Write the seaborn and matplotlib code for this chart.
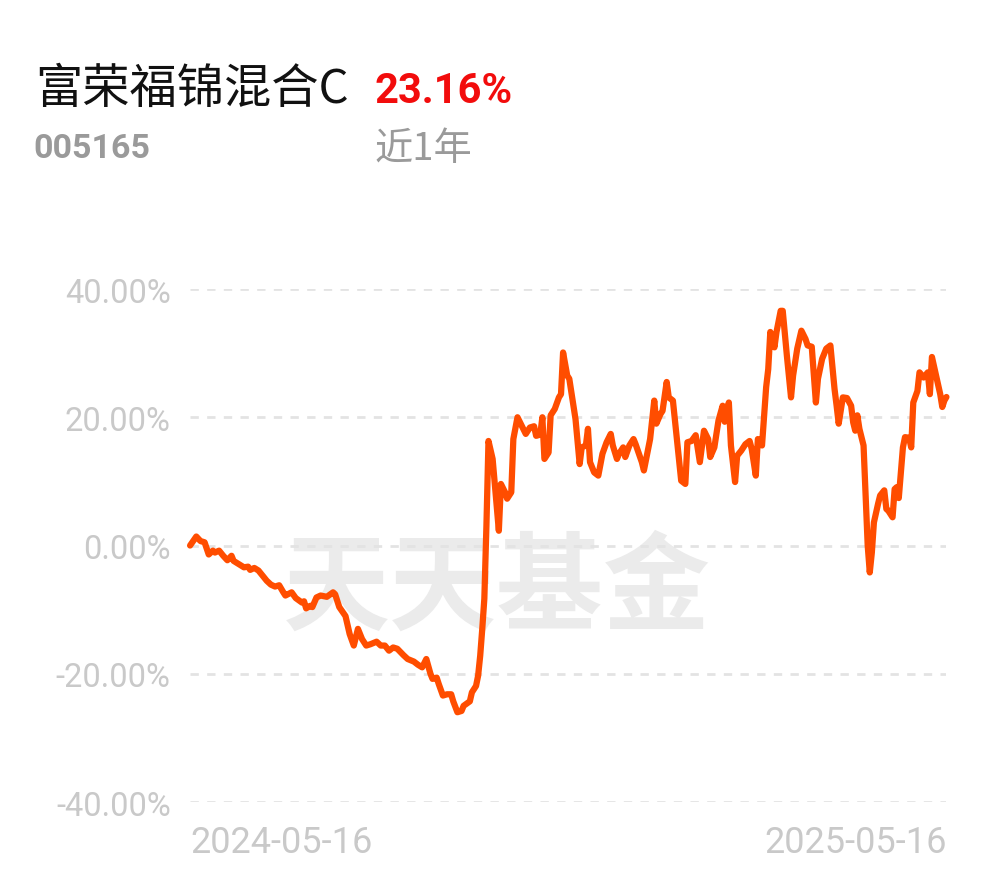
import pandas as pd
import numpy as np
import seaborn as sns
import matplotlib.pyplot as plt

# fund info
fund_name = "富荣福锦混合C"
fund_code = "005165"
period_label = "近1年"
period_return = "23.16%"
start_label = "2024-05-16"
end_label = "2025-05-16"

# cumulative return (%), days counted from 2024-05-16
days = [0, 3, 5, 7, 9, 11, 12, 14, 16, 18, 20, 21, 24, 26, 28, 29, 31, 33, 37, 39,
        41, 43, 45, 46, 49, 51, 54, 55, 56, 58, 59, 61, 63, 66, 69, 70, 72, 75, 77, 79,
        81, 83, 85, 87, 90, 92, 94, 96, 98, 100, 103, 105, 108, 110, 112, 114, 116, 117, 119, 120,
        122, 124, 126, 127, 129, 131, 132, 135, 136, 138, 139, 140, 141, 142, 143, 144, 146, 149, 150, 152,
        153, 155, 156, 158, 160, 162, 164, 166, 167, 169, 170, 171, 173, 174, 176, 178, 179, 180, 182, 183,
        186, 188, 189, 191, 192, 193, 195, 197, 199, 201, 203, 204, 206, 207, 209, 210, 212, 214, 215, 218,
        219, 222, 224, 225, 227, 228, 230, 231, 233, 235, 237, 239, 240, 242, 244, 246, 248, 250, 251, 253,
        255, 257, 258, 260, 261, 263, 264, 266, 268, 270, 271, 273, 274, 276, 278, 279, 280, 282, 283, 285,
        286, 288, 290, 291, 293, 295, 297, 298, 300, 302, 303, 305, 307, 309, 311, 312, 313, 315, 317, 319,
        320, 321, 322, 323, 325, 326, 327, 328, 329, 330, 332, 333, 335, 336, 337, 339, 340, 341, 342, 344,
        345, 347, 348, 349, 351, 352, 354, 356, 357, 358, 360, 362, 363, 364, 365]
values = [0.0, 1.4, 0.7, 0.5, -1.4, -0.8, -1.1, -0.8, -1.6, -2.3, -1.6, -2.4, -3.0, -3.4, -3.3, -3.8, -3.5, -3.9, -5.5, -6.1,
          -6.4, -6.2, -7.3, -7.8, -7.3, -8.2, -8.9, -8.7, -9.8, -9.4, -9.6, -8.1, -7.8, -8.0, -7.3, -7.6, -9.6, -11.0, -13.8, -15.6,
          -13.0, -14.6, -15.6, -15.4, -15.0, -15.6, -15.6, -16.4, -15.9, -16.1, -17.1, -17.7, -18.1, -18.6, -19.0, -17.7, -20.0, -20.8, -20.6, -21.6,
          -23.4, -23.2, -23.2, -24.3, -26.0, -25.8, -25.0, -24.3, -22.9, -21.9, -20.3, -17.2, -13.0, -8.3, 3.0, 16.3, 13.5, 2.3, 9.6, 8.3,
          7.3, 8.3, 16.6, 20.0, 18.7, 17.4, 18.4, 18.6, 17.1, 17.3, 20.0, 13.5, 14.5, 20.3, 21.3, 23.1, 23.6, 30.1, 26.5, 26.0,
          19.7, 12.7, 15.3, 15.6, 18.2, 13.0, 11.4, 10.9, 14.3, 16.1, 17.4, 15.6, 13.5, 14.3, 15.3, 13.8, 15.6, 16.6, 15.8, 13.0,
          11.7, 16.6, 22.6, 19.0, 20.5, 21.0, 25.5, 23.1, 22.6, 16.3, 10.1, 9.6, 16.1, 16.3, 17.2, 13.0, 17.9, 16.6, 13.8, 15.3,
          19.5, 21.8, 19.3, 22.3, 15.6, 9.9, 14.0, 14.8, 15.8, 16.3, 15.1, 10.9, 16.6, 15.6, 24.7, 27.5, 33.3, 30.9, 33.3, 36.6,
          36.6, 29.6, 23.1, 26.5, 30.7, 33.5, 32.2, 31.2, 31.0, 22.3, 26.0, 29.1, 30.7, 31.2, 24.4, 21.8, 19.0, 23.1, 23.0, 21.8,
          19.2, 17.9, 20.3, 18.2, 15.6, 7.8, 0.0, -4.2, -1.1, 3.6, 6.5, 7.8, 8.6, 5.7, 5.4, 4.4, 8.8, 9.1, 7.4, 15.3,
          16.9, 16.8, 15.3, 22.3, 24.1, 27.0, 26.2, 27.0, 23.6, 29.4, 26.5, 23.6, 21.6, 22.6, 23.16]

y_ticks = [-40, -20, 0, 20, 40]

start = pd.Timestamp(start_label)
df = pd.DataFrame({"date": start + pd.to_timedelta(days, unit="D"), "ret": values})

sns.set_style("white")
plt.rcParams["font.family"] = ["Roboto", "Noto Sans CJK SC", "DejaVu Sans"]

fig = plt.figure(figsize=(9.9, 8.78), dpi=100)
ax = fig.add_axes([0.192, 0.0854, 0.764, 0.5843])

# watermark
ax.text(0.406, 0.415, "天天基金", transform=ax.transAxes, ha="center", va="center",
        fontsize=77, fontweight="bold", color="#ebebeb", family=["Noto Sans CJK SC"], zorder=0)

for t in y_ticks:
    ax.axhline(t, color="#e3e3e3", lw=2, ls=(0, (3, 3)), zorder=1)

sns.lineplot(data=df, x="date", y="ret", ax=ax, color="#ff4d00", lw=4.5, zorder=3)
ax.lines[-1].set_clip_on(False)

ax.set_xlim(df["date"].iloc[0], pd.Timestamp(end_label))
ax.set_ylim(-40, 40)
ax.set_yticks(y_ticks)
ax.set_yticklabels([f"{t:.2f}%" for t in y_ticks], fontsize=23.5, color="#c9c9c9")
ax.set_xticks([df["date"].iloc[0], pd.Timestamp(end_label)])
ax.set_xticklabels([start_label, end_label], fontsize=26, color="#c9c9c9")
xl = ax.get_xticklabels()
xl[0].set_ha("left")
xl[1].set_ha("right")
ax.tick_params(axis="y", length=0, pad=14)
ax.tick_params(axis="x", length=0, pad=16)
ax.set_xlabel("")
ax.set_ylabel("")
sns.despine(ax=ax, left=True, bottom=True)

# header
fig.text(35 / 990, 1 - 103 / 878, fund_name, fontsize=34, color="#111111",
         family=["Noto Sans CJK SC"])
fig.text(375 / 990, 1 - 103 / 878, period_return, fontsize=30, fontweight="bold", color="#f20c0c")
fig.text(33 / 990, 1 - 158 / 878, fund_code, fontsize=24.5, fontweight="bold", color="#9a9a9a")
fig.text(375 / 990, 1 - 160 / 878, period_label, fontsize=27.5, color="#9a9a9a",
         family=["Noto Sans CJK SC", "Roboto"])

fig.savefig("out.png", dpi=100)
